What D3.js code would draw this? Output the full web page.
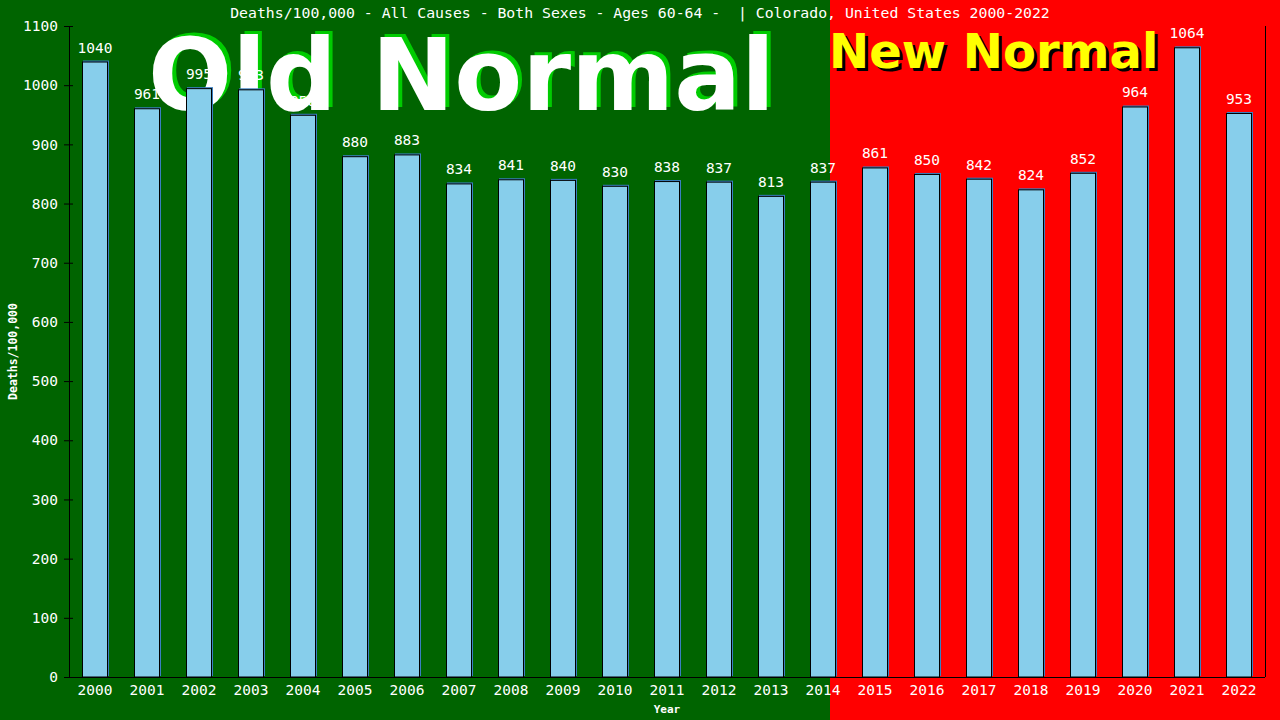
<!DOCTYPE html>
<html>
<head>
<meta charset="utf-8">
<script src="https://cdn.jsdelivr.net/npm/d3@7"></script>
<style>
  body { margin: 0; background: #006400; }
  svg { display: block; }
</style>
</head>
<body>
<div id="chart"></div>
<script>
// Data
const years = ["2000","2001","2002","2003","2004","2005","2006","2007","2008","2009","2010","2011",
               "2012","2013","2014","2015","2016","2017","2018","2019","2020","2021","2022"];
const rates = [1040, 961, 995, 993, 950, 880, 883, 834, 841, 840, 830, 838,
               837, 813, 837, 861, 850, 842, 824, 852, 964, 1064, 953];
const yTicks = [0, 100, 200, 300, 400, 500, 600, 700, 800, 900, 1000, 1100];

// Layout
const FRAME_WIDTH = 1280;
const FRAME_HEIGHT = 720;
const PLOT = {left: 69, right: 1265, top: 26, bottom: 677};
const SPLIT_X = 830;
const MONO = "'DejaVu Sans Mono', monospace";
const SANS = "'DejaVu Sans', Verdana, sans-serif";

const svg = d3.select("#chart")
  .append("svg")
    .attr("width", FRAME_WIDTH)
    .attr("height", FRAME_HEIGHT);

// backgrounds
svg.append("rect").attr("x", 0).attr("y", 0)
  .attr("width", SPLIT_X).attr("height", FRAME_HEIGHT).attr("fill", "#006400");
svg.append("rect").attr("x", SPLIT_X).attr("y", 0)
  .attr("width", FRAME_WIDTH - SPLIT_X).attr("height", FRAME_HEIGHT).attr("fill", "#ff0000");

// big captions sit under the bars
function caption(txt, cx, by, size, fill, shadow, dx, dy) {
  const g = svg.append("g").style("font-family", SANS).style("font-weight", "bold")
    .style("font-size", size + "px");
  g.append("text").attr("x", cx + dx).attr("y", by + dy).attr("fill", shadow).text(txt);
  g.append("text").attr("x", cx).attr("y", by).attr("fill", fill).text(txt);
}
caption("Old Normal", 148, 110, 99, "#ffffff", "#00cc00", 4, -3);
caption("New Normal", 829, 68, 48, "#ffff00", "#000000", 3, 3);

// scales
const x = d3.scaleBand()
  .domain(years)
  .range([PLOT.left, PLOT.right])
  .paddingInner(0.5)
  .paddingOuter(0.25);

const y = d3.scaleLinear()
  .domain([0, 1100])
  .range([PLOT.bottom, PLOT.top]);

// bars: blue offset edge then sky blue with black outline
const bars = svg.append("g").selectAll("g")
  .data(years.map((yr, i) => ({yr: yr, v: rates[i]})))
  .enter().append("g");

bars.append("rect")
  .attr("x", d => x(d.yr) + 1)
  .attr("y", d => y(d.v) - 1)
  .attr("width", x.bandwidth())
  .attr("height", d => y(0) - y(d.v))
  .attr("fill", "#3a7fc0");

bars.append("rect")
  .attr("x", d => x(d.yr) + 0.5)
  .attr("y", d => y(d.v) + 0.5)
  .attr("width", x.bandwidth() - 1)
  .attr("height", d => y(0) - y(d.v) - 0.5)
  .attr("fill", "#87ceeb")
  .attr("stroke", "#000")
  .attr("stroke-width", 1);

bars.append("text")
  .attr("x", d => x(d.yr) + x.bandwidth() / 2)
  .attr("y", d => y(d.v) - 9)
  .attr("text-anchor", "middle")
  .attr("fill", "#fff")
  .style("font-family", MONO)
  .style("font-size", "14.5px")
  .text(d => d.v);

// y axis
const yAxis = svg.append("g")
  .attr("transform", `translate(${PLOT.left},0)`)
  .call(d3.axisLeft(y).tickValues(yTicks).tickFormat(d3.format("d"))
    .tickSize(5).tickSizeOuter(0).tickPadding(6));
yAxis.selectAll(".tick line").attr("x1", 4).attr("stroke", "#000");
yAxis.select(".domain").attr("stroke", "#000");
yAxis.selectAll("text")
  .attr("fill", "#fff")
  .style("font-family", MONO)
  .style("font-size", "14.5px");

// x axis
const xAxis = svg.append("g")
  .attr("transform", `translate(0,${PLOT.bottom})`)
  .call(d3.axisBottom(x).tickSize(0).tickPadding(8));
xAxis.select(".domain").remove();
xAxis.selectAll("text")
  .attr("fill", "#fff")
  .style("font-family", MONO)
  .style("font-size", "14.5px");

svg.append("line")
  .attr("x1", PLOT.left - 5).attr("x2", PLOT.right)
  .attr("y1", PLOT.bottom + 0.5).attr("y2", PLOT.bottom + 0.5)
  .attr("stroke", "#000");
svg.append("line")
  .attr("x1", PLOT.right + 0.5).attr("x2", PLOT.right + 0.5)
  .attr("y1", PLOT.top).attr("y2", PLOT.bottom)
  .attr("stroke", "#000");

// axis titles
svg.append("text")
  .attr("x", (PLOT.left + PLOT.right) / 2)
  .attr("y", 713)
  .attr("text-anchor", "middle")
  .attr("fill", "#fff")
  .style("font-family", MONO)
  .style("font-weight", "bold")
  .style("font-size", "11px")
  .text("Year");

svg.append("text")
  .attr("transform", `translate(17,${(PLOT.top + PLOT.bottom) / 2}) rotate(-90)`)
  .attr("text-anchor", "middle")
  .attr("fill", "#fff")
  .style("font-family", MONO)
  .style("font-weight", "bold")
  .style("font-size", "11.5px")
  .text("Deaths/100,000");

// title
svg.append("text")
  .attr("x", 640)
  .attr("y", 18)
  .attr("text-anchor", "middle")
  .attr("fill", "#fff")
  .style("font-family", MONO)
  .style("font-size", "14.8px")
  .attr("xml:space", "preserve")
  .text("Deaths/100,000 - All Causes - Both Sexes - Ages 60-64 -  | Colorado, United States 2000-2022");
</script>
</body>
</html>
